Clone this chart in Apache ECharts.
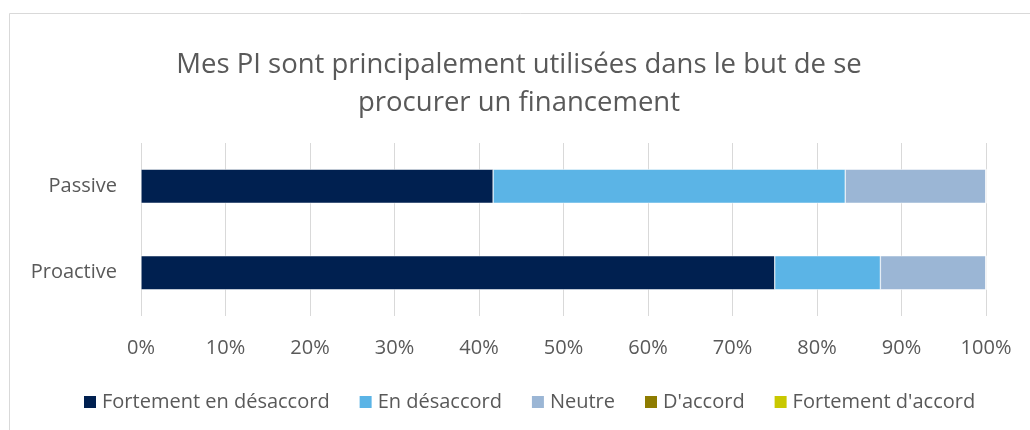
<!DOCTYPE html>
<html>
<head>
<meta charset="utf-8">
<script src="https://cdn.jsdelivr.net/npm/echarts@6/dist/echarts.min.js"></script>
<style>
  html, body { margin: 0; padding: 0; background: #ffffff; }
  #chart { width: 1030px; height: 430px; }
</style>
</head>
<body>
<div id="chart"></div>
<script>
const categories = ["Proactive", "Passive"];
const seriesNames = ["Fortement en désaccord", "En désaccord", "Neutre", "D'accord", "Fortement d'accord"];
const colors = ["#002050", "#5BB4E6", "#9BB6D5", "#8E7C00", "#C9C800"];
// valeurs en pourcentage, dans l'ordre des catégories
const fortementDesaccord = [75, 41.67];
const enDesaccord = [12.5, 41.67];
const neutre = [12.5, 16.66];
const dAccord = [0, 0];
const fortementDAccord = [0, 0];
const values = [fortementDesaccord, enDesaccord, neutre, dAccord, fortementDAccord];

const font = "'Open Sans', sans-serif";

const chart = echarts.init(document.getElementById("chart"));
chart.setOption({
  backgroundColor: "#ffffff",
  animation: false,
  graphic: [{
    type: "rect",
    shape: { x: 9.5, y: 13.5, width: 1040, height: 440 },
    style: { fill: "none", stroke: "#d9d9d9", lineWidth: 1 },
    silent: true
  }],
  title: {
    text: "Mes PI sont principalement utilisées dans le but de se\nprocurer un financement",
    left: 514,
    textAlign: "center",
    top: 41,
    textStyle: {
      fontFamily: font,
      fontSize: 27.5,
      fontWeight: "normal",
      color: "#595959",
      lineHeight: 38
    }
  },
  grid: { left: 141, right: 44, top: 143, bottom: 114 },
  xAxis: {
    type: "value",
    min: 0,
    max: 100,
    interval: 10,
    axisLine: { show: false },
    axisTick: { show: false },
    splitLine: { lineStyle: { color: "#d9d9d9", width: 1 } },
    axisLabel: {
      formatter: "{value}%",
      margin: 22,
      fontFamily: font,
      fontSize: 20,
      color: "#595959"
    }
  },
  yAxis: {
    type: "category",
    data: categories,
    axisLine: { show: false },
    axisTick: { show: false },
    axisLabel: {
      margin: 24,
      fontFamily: font,
      fontSize: 20,
      color: "#595959"
    }
  },
  legend: {
    top: 387,
    left: 77,
    itemWidth: 14,
    itemHeight: 14,
    itemGap: 28,
    icon: "rect",
    textStyle: { fontFamily: font, fontSize: 20, color: "#595959" },
    data: seriesNames
  },
  series: seriesNames.map((name, i) => ({
    name: name,
    type: "bar",
    stack: "total",
    barWidth: 34,
    data: values[i],
    itemStyle: { color: colors[i], borderColor: "#ffffff", borderWidth: 0.5 }
  }))
});
</script>
</body>
</html>
